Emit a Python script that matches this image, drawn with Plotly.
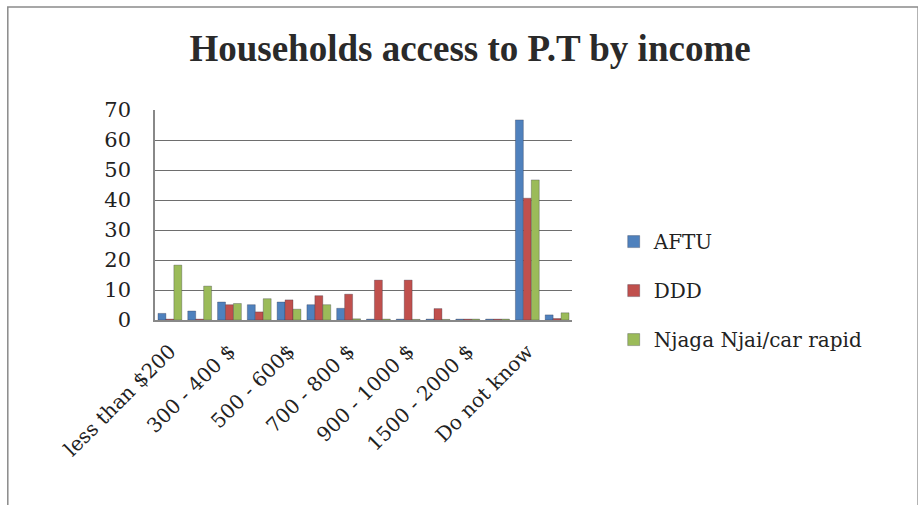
import plotly.graph_objects as go

categories = [
    "less than $200", "200 - 300 $", "300 - 400 $", "400 - 500 $",
    "500 - 600$", "600 - 700 $", "700 - 800 $", "800 - 900 $",
    "900 - 1000 $", "1000 - 1500 $", "1500 - 2000 $", "more than 2000 $",
    "Do not know", "No answer",
]
aftu = [2.2, 3.0, 6.0, 5.1, 6.0, 5.1, 3.9, 0.3, 0.3, 0.3, 0.3, 0.3, 66.7, 1.7]
ddd = [0.3, 0.3, 5.1, 2.7, 6.7, 8.1, 8.6, 13.3, 13.3, 3.8, 0.3, 0.3, 40.6, 0.5]
njaga = [18.3, 11.3, 5.5, 7.1, 3.6, 5.1, 0.4, 0.3, 0.2, 0.2, 0.3, 0.3, 46.7, 2.4]

series = [
    ("AFTU", aftu, "#4F81BD"),
    ("DDD", ddd, "#C0504D"),
    ("Njaga Njai/car rapid", njaga, "#9BBB59"),
]

# only every other income band is labelled on the axis
shown_ticks = categories[::2]

title_font = "Liberation Serif, Times New Roman, serif"
body_font = "DejaVu Serif, serif"

fig = go.Figure()
for name, vals, col in series:
    fig.add_trace(go.Bar(
        x=categories, y=vals, name=name, legendgroup=name,
        marker=dict(color=col, line=dict(color="rgba(40,40,60,0.5)", width=0.6)),
    ))

fig.update_layout(
    width=918, height=505,
    margin=dict(l=155, r=346, t=110, b=185),
    paper_bgcolor="white", plot_bgcolor="white",
    barmode="group", bargap=0.2, bargroupgap=0.0,
    title=dict(
        text="<b>Households access to P.T by income</b>",
        x=0.512, xanchor="center", y=0.905, yanchor="middle",
        font=dict(family=title_font, size=37, color="#2a2a2a"),
    ),
    legend=dict(
        x=1.1, xanchor="left", y=0.14, yanchor="middle",
        font=dict(family=body_font, size=20, color="#222222"),
        tracegroupgap=20, itemwidth=30,
    ),
    shapes=[dict(
        type="rect", xref="paper", yref="paper",
        x0=-0.353, x1=1.83, y0=-0.9, y1=1.49,
        line=dict(color="#8a8a8a", width=1.5),
    )],
)

fig.update_xaxes(
    tickmode="array", tickvals=shown_ticks, ticktext=shown_ticks,
    tickangle=-45, tickfont=dict(family=body_font, size=20, color="#222222"),
    showline=True, linecolor="#888888", linewidth=1.5,
    showgrid=False, ticks="", ticklabelstandoff=10,
)
fig.update_yaxes(
    range=[0, 70], dtick=10,
    tickfont=dict(family=body_font, size=21, color="#222222"),
    showgrid=True, gridcolor="#6e6e6e", gridwidth=1.2,
    showline=True, linecolor="#888888", linewidth=1.5,
    zeroline=False, ticks="", ticklabelstandoff=18,
)

fig.write_html("out.html")
